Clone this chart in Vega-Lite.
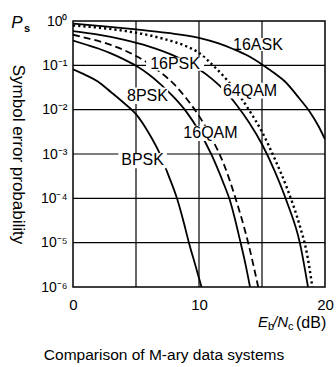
{
  "$schema": "https://vega.github.io/schema/vega-lite/v6.json",
  "width": 252,
  "height": 266,
  "autosize": {"type": "none"},
  "padding": {"left": 73, "top": 21, "right": 11, "bottom": 80},
  "background": "white",
  "config": {
    "view": {"stroke": "black", "strokeWidth": 1.5},
    "font": "Liberation Sans",
    "axis": {
      "labelFont": "Liberation Sans", "titleFont": "Liberation Sans", "labelColor": "black", "titleColor": "black",
      "grid": false, "domain": false, "ticks": false
    }
  },
  "title": {
    "text": "Comparison of M-ary data systems",
    "orient": "bottom",
    "anchor": "middle",
    "dx": -35,
    "offset": 16,
    "fontSize": 15.5,
    "fontWeight": "normal",
    "font": "Liberation Sans",
    "color": "black"
  },
  "datasets": {
    "curves": [
      {"s": "BPSK", "x": 0, "p": 0.0813},
      {"s": "BPSK", "x": 1, "p": 0.0603},
      {"s": "BPSK", "x": 2, "p": 0.0427},
      {"s": "BPSK", "x": 3, "p": 0.0251},
      {"s": "BPSK", "x": 4, "p": 0.0145},
      {"s": "BPSK", "x": 5, "p": 0.00794},
      {"s": "BPSK", "x": 6, "p": 0.00302},
      {"s": "BPSK", "x": 6.9, "p": 0.001},
      {"s": "BPSK", "x": 7.6, "p": 0.000316},
      {"s": "BPSK", "x": 8.25, "p": 0.0001},
      {"s": "BPSK", "x": 8.75, "p": 0.0000316},
      {"s": "BPSK", "x": 9.2, "p": 0.00001},
      {"s": "BPSK", "x": 9.7, "p": 0.00000316},
      {"s": "BPSK", "x": 10.2, "p": 0.000001},
      {"s": "8PSK", "x": 0, "p": 0.363},
      {"s": "8PSK", "x": 1, "p": 0.295},
      {"s": "8PSK", "x": 2, "p": 0.24},
      {"s": "8PSK", "x": 3, "p": 0.186},
      {"s": "8PSK", "x": 4, "p": 0.138},
      {"s": "8PSK", "x": 5, "p": 0.0977},
      {"s": "8PSK", "x": 6, "p": 0.0631},
      {"s": "8PSK", "x": 7, "p": 0.0363},
      {"s": "8PSK", "x": 8, "p": 0.0191},
      {"s": "8PSK", "x": 9, "p": 0.00891},
      {"s": "8PSK", "x": 10, "p": 0.00331},
      {"s": "8PSK", "x": 11, "p": 0.000955},
      {"s": "8PSK", "x": 12, "p": 0.0002},
      {"s": "8PSK", "x": 12.4, "p": 0.0001},
      {"s": "8PSK", "x": 13.3, "p": 0.00001},
      {"s": "8PSK", "x": 13.7, "p": 0.00000316},
      {"s": "8PSK", "x": 14.05, "p": 0.000001},
      {"s": "16QAM", "x": 0, "p": 0.49},
      {"s": "16QAM", "x": 1, "p": 0.417},
      {"s": "16QAM", "x": 2, "p": 0.355},
      {"s": "16QAM", "x": 3, "p": 0.288},
      {"s": "16QAM", "x": 4, "p": 0.224},
      {"s": "16QAM", "x": 5, "p": 0.162},
      {"s": "16QAM", "x": 6, "p": 0.11},
      {"s": "16QAM", "x": 7, "p": 0.0676},
      {"s": "16QAM", "x": 8, "p": 0.038},
      {"s": "16QAM", "x": 9, "p": 0.0178},
      {"s": "16QAM", "x": 10, "p": 0.00724},
      {"s": "16QAM", "x": 11, "p": 0.00229},
      {"s": "16QAM", "x": 12, "p": 0.00056},
      {"s": "16QAM", "x": 12.9, "p": 0.0001},
      {"s": "16QAM", "x": 13.9, "p": 0.00001},
      {"s": "16QAM", "x": 14.7, "p": 0.000001},
      {"s": "16PSK", "x": 0, "p": 0.589},
      {"s": "16PSK", "x": 2, "p": 0.49},
      {"s": "16PSK", "x": 4, "p": 0.38},
      {"s": "16PSK", "x": 6, "p": 0.269},
      {"s": "16PSK", "x": 8, "p": 0.166},
      {"s": "16PSK", "x": 10, "p": 0.0813},
      {"s": "16PSK", "x": 11, "p": 0.0501},
      {"s": "16PSK", "x": 12, "p": 0.0275},
      {"s": "16PSK", "x": 13, "p": 0.0126},
      {"s": "16PSK", "x": 14, "p": 0.00501},
      {"s": "16PSK", "x": 15, "p": 0.00166},
      {"s": "16PSK", "x": 16, "p": 0.000417},
      {"s": "16PSK", "x": 17, "p": 0.0000794},
      {"s": "16PSK", "x": 18, "p": 0.00001},
      {"s": "16PSK", "x": 18.65, "p": 0.000001},
      {"s": "64QAM", "x": 0, "p": 0.794},
      {"s": "64QAM", "x": 2, "p": 0.708},
      {"s": "64QAM", "x": 4, "p": 0.603},
      {"s": "64QAM", "x": 6, "p": 0.479},
      {"s": "64QAM", "x": 8, "p": 0.339},
      {"s": "64QAM", "x": 9, "p": 0.269},
      {"s": "64QAM", "x": 10, "p": 0.191},
      {"s": "64QAM", "x": 11, "p": 0.107},
      {"s": "64QAM", "x": 12, "p": 0.055},
      {"s": "64QAM", "x": 13, "p": 0.0251},
      {"s": "64QAM", "x": 14, "p": 0.00955},
      {"s": "64QAM", "x": 15, "p": 0.00316},
      {"s": "64QAM", "x": 16, "p": 0.000794},
      {"s": "64QAM", "x": 17, "p": 0.000166},
      {"s": "64QAM", "x": 18, "p": 0.000024},
      {"s": "64QAM", "x": 18.5, "p": 0.00000708},
      {"s": "64QAM", "x": 19, "p": 0.000001},
      {"s": "16ASK", "x": 0, "p": 0.871},
      {"s": "16ASK", "x": 2.5, "p": 0.759},
      {"s": "16ASK", "x": 5, "p": 0.646},
      {"s": "16ASK", "x": 7.5, "p": 0.537},
      {"s": "16ASK", "x": 10, "p": 0.417},
      {"s": "16ASK", "x": 11.5, "p": 0.316},
      {"s": "16ASK", "x": 12.7, "p": 0.234},
      {"s": "16ASK", "x": 14, "p": 0.158},
      {"s": "16ASK", "x": 15, "p": 0.105},
      {"s": "16ASK", "x": 16, "p": 0.0661},
      {"s": "16ASK", "x": 16.8, "p": 0.0437},
      {"s": "16ASK", "x": 18, "p": 0.0174},
      {"s": "16ASK", "x": 18.8, "p": 0.00891},
      {"s": "16ASK", "x": 19.5, "p": 0.00417},
      {"s": "16ASK", "x": 20, "p": 0.00214}
    ],
    "labels": [
      {"t": "16ASK", "x": 14.68, "p": 0.2864, "x1": 13.6, "x2": 16.75, "p1": 0.412, "p2": 0.2096},
      {"t": "16PSK", "x": 8.1, "p": 0.1064, "x1": 5.8, "x2": 10.4, "p1": 0.151, "p2": 0.0755},
      {"t": "8PSK", "x": 5.91, "p": 0.0206, "x1": 4.25, "x2": 7.55, "p1": 0.0316, "p2": 0.0135},
      {"t": "64QAM", "x": 14.05, "p": 0.0268, "x1": 11.75, "x2": 16.35, "p1": 0.0407, "p2": 0.0178},
      {"t": "16QAM", "x": 10.91, "p": 0.00292, "x1": 8.65, "x2": 13.15, "p1": 0.00433, "p2": 0.00197},
      {"t": "BPSK", "x": 5.52, "p": 0.000716, "x1": 3.6, "x2": 7.45, "p1": 0.00105, "p2": 0.000475}
    ],
    "vgrid": [{"g": 5}, {"g": 10}, {"g": 15}],
    "hgrid": [{"g": 0.1}, {"g": 0.01}, {"g": 0.001}, {"g": 0.0001}, {"g": 0.00001}],
    "anchor": [{}]
  },
  "layer": [
    {
      "data": {"name": "vgrid"},
      "mark": {"type": "rule", "stroke": "black", "strokeWidth": 1.2},
      "encoding": {
        "x": {
          "field": "g", "type": "quantitative",
          "scale": {"domain": [0, 20], "nice": false, "zero": false},
          "axis": {
            "values": [0, 5, 10, 15, 20],
            "labelExpr": "datum.value % 10 == 0 ? datum.label : ''",
            "grid": false, "domain": false, "ticks": false,
            "labelFontSize": 15, "labelPadding": 10, "labelFlush": false,
            "title": null
          }
        }
      }
    },
    {
      "data": {"name": "hgrid"},
      "mark": {"type": "rule", "stroke": "black", "strokeWidth": 1.2},
      "encoding": {
        "y": {
          "field": "g", "type": "quantitative",
          "scale": {"type": "log", "domain": [0.000001, 1], "nice": false},
          "axis": {
            "values": [0.000001, 0.00001, 0.0001, 0.001, 0.01, 0.1, 1],
            "labelExpr": "datum.value >= 0.5 ? '10⁰' : datum.value >= 0.05 ? '10⁻¹' : datum.value >= 0.005 ? '10⁻²' : datum.value >= 0.0005 ? '10⁻³' : datum.value >= 0.00005 ? '10⁻⁴' : datum.value >= 0.000005 ? '10⁻⁵' : '10⁻⁶'",
            "grid": false, "domain": false, "ticks": false,
            "labelFontSize": 14, "labelPadding": 6, "labelFlush": false,
            "title": "Symbol error probability",
            "titleFontSize": 17, "titleFontWeight": "normal",
            "titleAngle": 90, "titleAlign": "center", "titleBaseline": "middle",
            "titleX": -56, "titleY": 133
          }
        }
      }
    },
    {
      "data": {"name": "curves"},
      "transform": [{"filter": "datum.s != '16QAM' && datum.s != '64QAM'"}],
      "mark": {"type": "line", "interpolate": "monotone", "stroke": "black", "strokeWidth": 1.8, "clip": true},
      "encoding": {
        "x": {"field": "x", "type": "quantitative"},
        "y": {"field": "p", "type": "quantitative"},
        "detail": {"field": "s"}
      }
    },
    {
      "data": {"name": "curves"},
      "transform": [{"filter": "datum.s == '16QAM'"}],
      "mark": {"type": "line", "interpolate": "monotone", "stroke": "black", "strokeWidth": 1.8, "strokeDash": [7, 4], "clip": true},
      "encoding": {
        "x": {"field": "x", "type": "quantitative"},
        "y": {"field": "p", "type": "quantitative"}
      }
    },
    {
      "data": {"name": "curves"},
      "transform": [{"filter": "datum.s == '64QAM'"}],
      "mark": {"type": "line", "interpolate": "monotone", "stroke": "black", "strokeWidth": 2.4, "strokeDash": [2.2, 3], "clip": true},
      "encoding": {
        "x": {"field": "x", "type": "quantitative"},
        "y": {"field": "p", "type": "quantitative"}
      }
    },
    {
      "data": {"name": "labels"},
      "mark": {"type": "rect", "fill": "white", "stroke": null},
      "encoding": {
        "x": {"field": "x1", "type": "quantitative"},
        "x2": {"field": "x2"},
        "y": {"field": "p1", "type": "quantitative"},
        "y2": {"field": "p2"}
      }
    },
    {
      "data": {"name": "labels"},
      "mark": {"type": "text", "fontSize": 16, "font": "Liberation Sans", "color": "black", "align": "center", "baseline": "middle"},
      "encoding": {
        "x": {"field": "x", "type": "quantitative"},
        "y": {"field": "p", "type": "quantitative"},
        "text": {"field": "t"}
      }
    },
    {
      "data": {"name": "anchor"},
      "mark": {"type": "text", "text": "P", "fontSize": 17, "fontStyle": "italic", "color": "black", "align": "center", "baseline": "alphabetic", "dx": -56, "dy": 7},
      "encoding": {"x": {"datum": 0}, "y": {"datum": 1}}
    },
    {
      "data": {"name": "anchor"},
      "mark": {"type": "text", "text": "s", "fontSize": 11, "fontWeight": "bold", "color": "black", "align": "left", "baseline": "alphabetic", "dx": -49, "dy": 11},
      "encoding": {"x": {"datum": 0}, "y": {"datum": 1}}
    },
    {
      "data": {"name": "anchor"},
      "mark": {"type": "text", "text": "E", "fontSize": 15, "fontStyle": "italic", "color": "black", "align": "left", "baseline": "alphabetic", "dx": -67, "dy": 40},
      "encoding": {"x": {"datum": 20}, "y": {"datum": 0.000001}}
    },
    {
      "data": {"name": "anchor"},
      "mark": {"type": "text", "text": "b", "fontSize": 11, "color": "black", "align": "left", "baseline": "alphabetic", "dx": -57, "dy": 43},
      "encoding": {"x": {"datum": 20}, "y": {"datum": 0.000001}}
    },
    {
      "data": {"name": "anchor"},
      "mark": {"type": "text", "text": "/N", "fontSize": 15, "fontStyle": "italic", "color": "black", "align": "left", "baseline": "alphabetic", "dx": -52, "dy": 40},
      "encoding": {"x": {"datum": 20}, "y": {"datum": 0.000001}}
    },
    {
      "data": {"name": "anchor"},
      "mark": {"type": "text", "text": "c", "fontSize": 11, "color": "black", "align": "left", "baseline": "alphabetic", "dx": -37, "dy": 43},
      "encoding": {"x": {"datum": 20}, "y": {"datum": 0.000001}}
    },
    {
      "data": {"name": "anchor"},
      "mark": {"type": "text", "text": "(dB)", "fontSize": 16, "color": "black", "align": "left", "baseline": "alphabetic", "dx": -29, "dy": 41},
      "encoding": {"x": {"datum": 20}, "y": {"datum": 0.000001}}
    }
  ]
}
